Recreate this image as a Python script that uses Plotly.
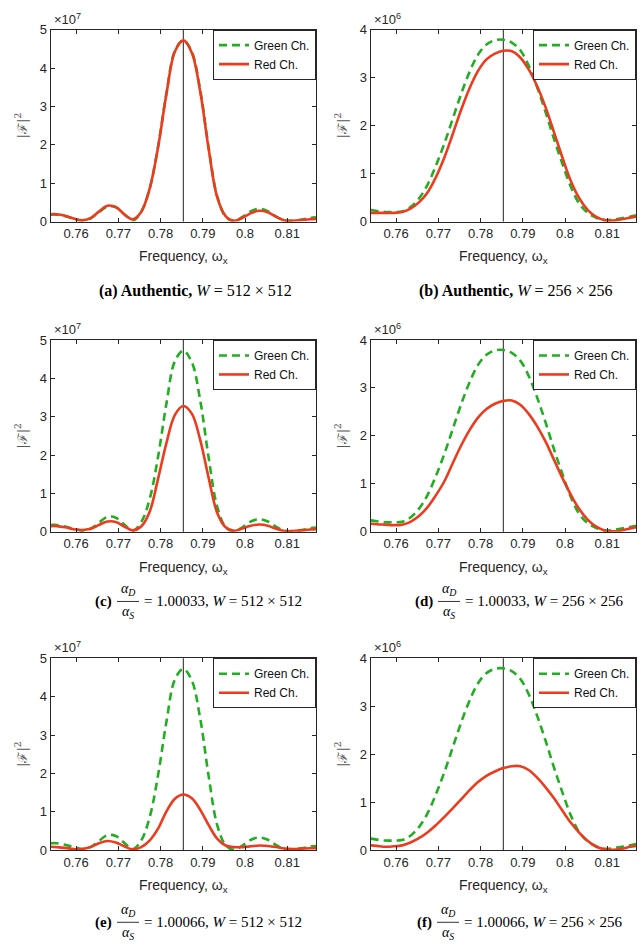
import plotly.graph_objects as go

# ---------------- data (values in units of 10^7 for 512x512, 10^6 for 256x256) ----------------
FREQ = [0.7540, 0.7554, 0.7574, 0.7594, 0.7614, 0.7634, 0.7654, 0.7674, 0.7694, 0.7714,
        0.7734, 0.7754, 0.7774, 0.7794, 0.7814, 0.7834, 0.7854, 0.7874, 0.7894, 0.7914,
        0.7934, 0.7954, 0.7974, 0.7994, 0.8014, 0.8034, 0.8054, 0.8074, 0.8094, 0.8114,
        0.8134, 0.8154, 0.8168]
CENTER_FREQ = 0.7854
X_RANGE = [0.75398, 0.81681]
X_TICKS = [0.76, 0.77, 0.78, 0.79, 0.80, 0.81]
X_TICK_LABELS = ["0.76", "0.77", "0.78", "0.79", "0.8", "0.81"]

GREEN_512 = [0.18, 0.18, 0.14, 0.08, 0.03, 0.08, 0.24, 0.39, 0.37, 0.19,
             0.03, 0.25, 0.85, 1.95, 3.35, 4.45, 4.72, 4.42, 3.42, 1.92,
             0.66, 0.13, 0.01, 0.12, 0.27, 0.33, 0.27, 0.13, 0.03, 0.02,
             0.05, 0.09, 0.11]
RED_A = [0.19, 0.19, 0.15, 0.08, 0.03, 0.09, 0.26, 0.41, 0.38, 0.19,
         0.06, 0.25, 0.85, 1.93, 3.33, 4.43, 4.72, 4.40, 3.38, 1.88,
         0.64, 0.14, 0.02, 0.10, 0.22, 0.28, 0.24, 0.12, 0.03, 0.02,
         0.04, 0.06, 0.07]
RED_C = [0.15, 0.15, 0.12, 0.07, 0.05, 0.08, 0.18, 0.27, 0.26, 0.14,
         0.04, 0.14, 0.52, 1.38, 2.32, 3.05, 3.28, 3.08, 2.39, 1.40,
         0.50, 0.12, 0.03, 0.09, 0.16, 0.19, 0.16, 0.08, 0.02, 0.02,
         0.04, 0.06, 0.07]
RED_E = [0.09, 0.08, 0.06, 0.03, 0.03, 0.08, 0.18, 0.24, 0.20, 0.10,
         0.02, 0.08, 0.25, 0.56, 1.01, 1.34, 1.45, 1.35, 1.05, 0.65,
         0.30, 0.12, 0.08, 0.08, 0.10, 0.12, 0.11, 0.08, 0.04, 0.03,
         0.04, 0.05, 0.05]

GREEN_256 = [0.24, 0.22, 0.20, 0.20, 0.21, 0.30, 0.48, 0.76, 1.16, 1.62,
             2.14, 2.66, 3.12, 3.48, 3.69, 3.78, 3.79, 3.73, 3.57, 3.25,
             2.80, 2.28, 1.72, 1.20, 0.72, 0.37, 0.18, 0.08, 0.03, 0.04,
             0.07, 0.10, 0.13]
RED_B = [0.18, 0.18, 0.18, 0.18, 0.20, 0.27, 0.40, 0.60, 0.92, 1.33,
         1.82, 2.33, 2.78, 3.14, 3.38, 3.50, 3.56, 3.55, 3.42, 3.17,
         2.82, 2.38, 1.86, 1.33, 0.84, 0.48, 0.24, 0.10, 0.03, 0.02,
         0.05, 0.08, 0.10]
RED_D = [0.17, 0.16, 0.15, 0.14, 0.15, 0.21, 0.33, 0.51, 0.76, 1.05,
         1.43, 1.80, 2.12, 2.38, 2.56, 2.67, 2.73, 2.74, 2.65, 2.46,
         2.20, 1.88, 1.50, 1.12, 0.77, 0.47, 0.25, 0.11, 0.03, 0.01,
         0.03, 0.07, 0.10]
RED_F = [0.10, 0.09, 0.07, 0.08, 0.10, 0.16, 0.25, 0.37, 0.52, 0.69,
         0.87, 1.06, 1.25, 1.42, 1.55, 1.64, 1.71, 1.75, 1.75, 1.67,
         1.51, 1.31, 1.08, 0.82, 0.57, 0.36, 0.19, 0.07, 0.02, 0.01,
         0.03, 0.07, 0.09]

Y_TICKS_512 = [0, 1, 2, 3, 4, 5]
Y_TICKS_256 = [0, 1, 2, 3, 4]
SERIES_NAMES = ["Green Ch.", "Red Ch."]

# ---------------- styling / layout ----------------
W, H = 641, 949
GREEN = "#22AE22"
RED = "#EC3B1E"
AX = "#262626"
SANS = "Liberation Sans, Arial, sans-serif"
SERIF = "Liberation Serif, Times New Roman, serif"

COL_PX = [(50.7, 316.0), (370.7, 636.0)]
ROW_PX = [(23.0, 218.0), (338.3, 533.3), (661.7, 856.7)]


def px_x(p):
    return p / W


def px_y(p):
    return 1 - p / H


panels = [
    (GREEN_512, RED_A, Y_TICKS_512, "7"),
    (GREEN_256, RED_B, Y_TICKS_256, "6"),
    (GREEN_512, RED_C, Y_TICKS_512, "7"),
    (GREEN_256, RED_D, Y_TICKS_256, "6"),
    (GREEN_512, RED_E, Y_TICKS_512, "7"),
    (GREEN_256, RED_F, Y_TICKS_256, "6"),
]

fig = go.Figure()
layout = dict(width=W, height=H, margin=dict(l=0, r=0, t=0, b=0), autosize=False,
              paper_bgcolor="white", plot_bgcolor="white", showlegend=True)
annotations = []
shapes = []

for i, (g, r, yt, expo) in enumerate(panels):
    row, col = divmod(i, 2)
    n = "" if i == 0 else str(i + 1)
    xa, ya = "x" + n, "y" + n
    lg = "legend" + n
    x0p, x1p = COL_PX[col]
    y0p, y1p = ROW_PX[row]

    fig.add_trace(go.Scatter(x=FREQ, y=g, mode="lines", name=SERIES_NAMES[0],
                             line=dict(color=GREEN, width=2.6, dash="8px,5px", shape="spline", smoothing=1.0),
                             xaxis=xa, yaxis=ya, legend=lg))
    fig.add_trace(go.Scatter(x=FREQ, y=r, mode="lines", name=SERIES_NAMES[1],
                             line=dict(color=RED, width=2.6, shape="spline", smoothing=1.0),
                             xaxis=xa, yaxis=ya, legend=lg))

    layout["xaxis" + n] = dict(
        domain=[px_x(x0p), px_x(x1p)], anchor=ya, range=X_RANGE,
        tickvals=X_TICKS, ticktext=X_TICK_LABELS, ticks="inside", ticklen=4,
        tickcolor=AX, showline=True, linecolor=AX, linewidth=1, mirror="ticks",
        showgrid=False, zeroline=False, tickfont=dict(family=SANS, size=13, color=AX),
        title=dict(text="Frequency, ω<sub>x</sub>", font=dict(family=SANS, size=14, color=AX), standoff=11),
    )
    layout["yaxis" + n] = dict(
        domain=[px_y(y1p), px_y(y0p)], anchor=xa, range=[0, yt[-1]],
        tickvals=yt, ticks="inside", ticklen=4,
        tickcolor=AX, showline=True, linecolor=AX, linewidth=1, mirror="ticks",
        showgrid=False, zeroline=False, tickfont=dict(family=SANS, size=13, color=AX),
        title=dict(text="|ℱ|<sup>2</sup>", font=dict(family="DejaVu Serif, serif", size=13, color="#555555"), standoff=9),
    )
    layout[lg] = dict(
        x=px_x(x1p), y=px_y(y0p), xanchor="right", yanchor="top",
        bgcolor="white", bordercolor=AX, borderwidth=1,
        font=dict(family=SANS, size=12, color="#111111"),
        tracegroupgap=0, itemwidth=30,
    )
    shapes.append(dict(type="line", xref=xa, yref=ya + " domain", x0=CENTER_FREQ, x1=CENTER_FREQ,
                       y0=0, y1=1, line=dict(color="#454545", width=1.2), layer="below"))
    annotations.append(dict(xref="paper", yref="paper", x=px_x(x0p + 1), y=px_y(y0p - 1),
                            xanchor="left", yanchor="bottom", showarrow=False,
                            text="×10<sup>" + expo + "</sup>",
                            font=dict(family=SANS, size=13, color=AX)))

# ---------------- captions ----------------
CAP_FONT = dict(family=SERIF, size=15, color="black")
for cx, txt in [(195, "<b>(a) Authentic,</b> <i>W</i> = 512 × 512"),
                (516, "<b>(b) Authentic,</b> <i>W</i> = 256 × 256")]:
    annotations.append(dict(xref="paper", yref="paper", x=px_x(cx), y=px_y(289),
                            xanchor="center", yanchor="middle", showarrow=False,
                            text=txt, font=dict(family=SERIF, size=16, color="black")))

frac_caps = [
    ("(c)", "1.00033", "512 × 512", 114, 604),
    ("(d)", "1.00033", "256 × 256", 435, 604),
    ("(e)", "1.00066", "512 × 512", 114, 930),
    ("(f)", "1.00066", "256 × 256", 434, 930),
]
for lab, ratio, win, xr, yc in frac_caps:
    annotations.append(dict(xref="paper", yref="paper", x=px_x(xr), y=px_y(yc), xanchor="right",
                            yanchor="middle", showarrow=False, text="<b>" + lab + "</b>", font=CAP_FONT))
    fc = xr + 14
    annotations.append(dict(xref="paper", yref="paper", x=px_x(fc), y=px_y(yc - 1), xanchor="center",
                            yanchor="bottom", showarrow=False,
                            text="<i>α<sub>D</sub></i>", font=dict(family=SERIF, size=14, color="black")))
    annotations.append(dict(xref="paper", yref="paper", x=px_x(fc), y=px_y(yc + 1), xanchor="center",
                            yanchor="top", showarrow=False,
                            text="<i>α<sub>S</sub></i>", font=dict(family=SERIF, size=14, color="black")))
    shapes.append(dict(type="line", xref="paper", yref="paper", x0=px_x(fc - 11), x1=px_x(fc + 11),
                       y0=px_y(yc), y1=px_y(yc), line=dict(color="black", width=0.8)))
    annotations.append(dict(xref="paper", yref="paper", x=px_x(fc + 14), y=px_y(yc), xanchor="left",
                            yanchor="middle", showarrow=False,
                            text="= " + ratio + ", <i>W</i> = " + win, font=CAP_FONT))

layout["annotations"] = annotations
layout["shapes"] = shapes
fig.update_layout(**layout)
fig.write_html("out.html", config={"responsive": False, "displayModeBar": False})

# remove default page margins so the figure sits at the window origin
with open("out.html", "r", encoding="utf-8") as fh:
    html = fh.read()
html = html.replace("<head>", "<head><style>html,body{margin:0;padding:0;overflow:hidden;}</style>", 1)
with open("out.html", "w", encoding="utf-8") as fh:
    fh.write(html)
